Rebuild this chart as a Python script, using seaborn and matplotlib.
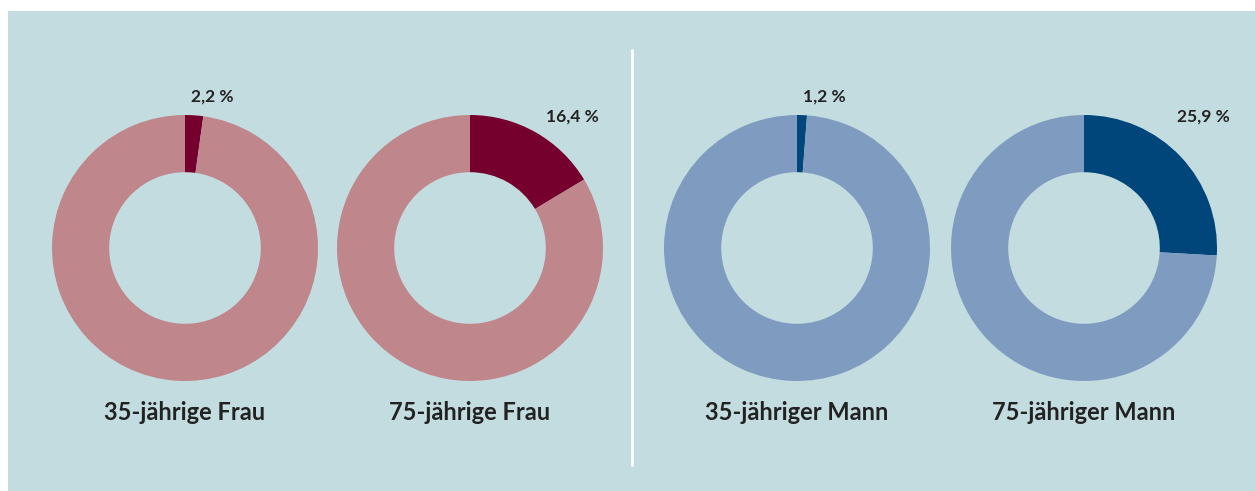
import matplotlib
matplotlib.use("Agg")
import matplotlib.pyplot as plt
from matplotlib.patches import Rectangle
import seaborn as sns

# Data
groups = ['35-jährige Frau', '75-jährige Frau', '35-jähriger Mann', '75-jähriger Mann']
shares = [2.2, 16.4, 1.2, 25.9]
share_labels = ['2,2 %', '16,4 %', '1,2 %', '25,9 %']
dark_colors = ['#75002e', '#75002e', '#00467a', '#00467a']
light_colors = ['#bf878b', '#bf878b', '#7f9cc0', '#7f9cc0']

sns.set_theme(style="white")
plt.rcParams['font.family'] = ['Lato', 'DejaVu Sans']

W, H = 1255, 491
bg = '#c2dce0'
text_col = '#222222'

fig = plt.figure(figsize=(W / 100, H / 100), dpi=100)
fig.patch.set_facecolor('white')

# panel background
fig.patches.append(Rectangle((8 / W, 0), 1 - 8 / W, (H - 11) / H,
                             transform=fig.transFigure, facecolor=bg,
                             edgecolor='none', zorder=-5))
# white separator
fig.add_artist(plt.Line2D([632 / W, 632 / W], [(H - 465) / H, (H - 50) / H],
                          transform=fig.transFigure, color='white', lw=2,
                          zorder=-4))

centers_x = [185, 470, 797, 1084]
center_y = H - 248
r = 133

for i, g in enumerate(groups):
    cx = centers_x[i]
    ax = fig.add_axes([(cx - r) / W, (center_y - r) / H, 2 * r / W, 2 * r / H])
    ax.pie([shares[i], 100 - shares[i]], colors=[dark_colors[i], light_colors[i]],
           startangle=90, counterclock=False, radius=1,
           wedgeprops=dict(width=0.43, edgecolor='none'))
    ax.set_xlim(-1, 1)
    ax.set_ylim(-1, 1)
    ax.set_axis_off()
    ax.patch.set_alpha(0)
    # percent label
    if shares[i] < 10:
        lx, ly = 27 / r, 151 / r
    else:
        lx, ly = (102 + 17 * (i == 3)) / r, 131 / r
    ax.text(lx, ly, share_labels[i], ha='center', va='center', fontsize=12.5,
            fontweight='bold', color=text_col, clip_on=False)
    # group label
    fig.text(cx / W, (H - 413) / H, g, ha='center', va='center', fontsize=17,
             fontweight='bold', color=text_col)

fig.savefig('out.png', dpi=100, facecolor=fig.get_facecolor())
